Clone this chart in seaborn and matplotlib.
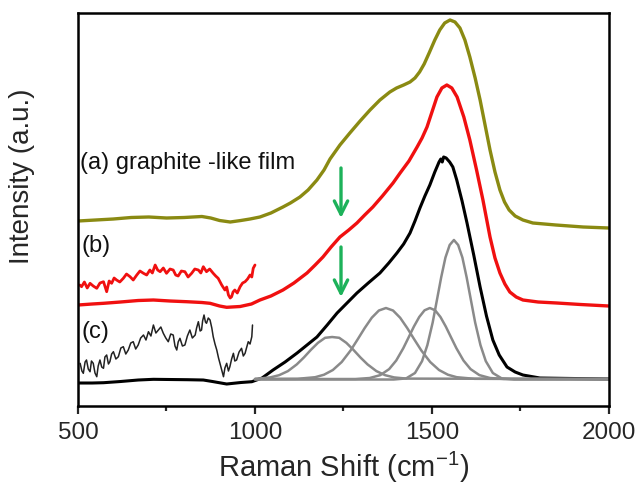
import numpy as np
import pandas as pd
import matplotlib
matplotlib.use("Agg")
import matplotlib.pyplot as plt
import seaborn as sns

# ---------------- data (Raman shift in cm^-1, intensity in a.u.) ----------------
olive_x = [500, 550, 600, 650, 700, 750, 800, 850, 875, 900, 930, 960, 986, 1014, 1045, 1079,
           1100, 1127, 1150, 1175, 1195, 1212, 1240, 1268, 1297, 1325, 1353, 1381, 1400, 1420,
           1438, 1452, 1465, 1478, 1492, 1508, 1522, 1536, 1551, 1565, 1579, 1593, 1607, 1622,
           1636, 1650, 1664, 1678, 1692, 1705, 1718, 1735, 1757, 1785, 1850, 1927, 2000]
olive_y = [185, 186, 187, 188.5, 189, 188, 188.5, 189.5, 188, 185.5, 184, 185.5, 187, 189, 193, 199,
           203, 209, 216, 226, 236, 247, 261, 273, 285, 296, 306, 314, 318, 321,
           324, 328, 334, 342, 353, 366, 376, 383, 386, 384, 378, 366, 349, 328,
           306, 281, 256, 234, 216, 204, 196, 190, 186, 183, 181, 179, 178]

red_x = [500, 540, 572, 620, 670, 713, 760, 807, 850, 873, 900, 920, 958, 990, 1014, 1045,
         1079, 1110, 1147, 1170, 1192, 1215, 1240, 1265, 1288, 1310, 1333, 1360, 1390, 1410,
         1435, 1458, 1472, 1486, 1500, 1514, 1528, 1542, 1556, 1571, 1590, 1607, 1626, 1644,
         1664, 1678, 1692, 1706, 1720, 1738, 1757, 1800, 1853, 1920, 2000]
red_y = [101, 102, 102.7, 104, 105.5, 106, 105, 104.3, 103.5, 102.7, 100, 98.7, 99.5, 102, 106, 110,
         116, 123, 133, 141, 149, 159, 169, 176, 183, 191, 199, 210, 223, 233,
         245, 259, 268, 279, 294, 309, 318, 321, 318, 309, 289, 266, 236, 206,
         169, 148, 133, 122, 114, 109, 106, 104, 103, 101.5, 100]

red_zoom_x = [505, 510, 518, 526, 534, 543, 553, 562, 572, 581, 588, 595, 602, 609, 618,
              628, 637, 647, 656, 666, 675, 685, 694, 703, 710, 718, 725, 732, 741,
              750, 760, 769, 776, 783, 792, 802, 811, 821, 830, 840, 847, 854, 863,
              872, 882, 889, 896, 906, 915, 920, 925, 930, 934, 938, 943, 950, 958,
              965, 972, 979, 986, 991, 995, 1000]
red_zoom_y = [121, 119.3, 124, 118, 122.7, 120, 117.7, 123, 124.3, 114.3, 125, 122.7, 128, 126, 124,
              127.7, 132, 129.3, 126, 131, 135, 132.7, 131, 136, 133, 141, 136, 134.3, 138,
              132.7, 137, 136, 131, 130, 135, 134.3, 129, 132.7, 137, 136, 133, 139.3, 134.3,
              137, 132.7, 130, 127.7, 121, 116, 119, 111, 108, 109.3, 114, 116, 113, 119.3,
              123, 124.3, 127, 131, 129, 137.7, 141]

black_x = [500, 540, 572, 620, 670, 713, 760, 810, 854, 880, 920, 960, 991, 1020, 1051, 1085,
           1119, 1147, 1175, 1204, 1232, 1260, 1288, 1320, 1353, 1378, 1401, 1420, 1438, 1452,
           1466, 1480, 1494, 1508, 1520, 1525, 1529, 1533, 1540, 1550, 1559, 1570, 1585, 1599,
           1618, 1636, 1654, 1672, 1690, 1712, 1735, 1757, 1805, 1900, 2000]
black_y = [23, 23, 23.3, 24.5, 26, 26.7, 26.5, 26.3, 26, 24.5, 22, 23.5, 24.3, 28, 36, 44,
           53, 61, 69, 81, 93, 103, 113, 123, 133, 143, 153, 162, 173, 185,
           198, 210, 221, 234, 244, 247, 244, 249, 248, 244, 239, 226, 205, 183,
           151, 119, 90, 66, 51, 39, 34, 31, 28, 27.5, 27]

black_zoom_x = [506, 511, 515, 520, 524, 529, 534, 538, 543, 548, 553, 557, 562, 567, 572,
                576, 581, 586, 590, 595, 600, 607, 614, 621, 628, 635, 642, 649, 656,
                663, 670, 677, 685, 692, 699, 706, 713, 720, 727, 734, 741, 748, 755,
                762, 769, 774, 779, 783, 788, 795, 802, 809, 816, 823, 831, 835, 840,
                845, 849, 852, 856, 860, 863, 868, 873, 878, 882, 887, 892, 897, 901,
                906, 911, 915, 920, 925, 929, 934, 939, 943, 948, 955, 962, 967, 972,
                976, 981, 986, 991, 993]
black_zoom_y = [42.7, 35, 32.7, 44, 46, 37, 34.3, 45, 42.7, 33, 29.3, 40, 46, 39, 37.7,
                49, 51, 42, 44.3, 52, 54.3, 47, 49.3, 58, 59.3, 52, 56, 63, 64.3,
                57, 61, 68, 71, 66, 74.3, 70, 81, 73, 76, 79, 72.7, 68, 64.3,
                72, 71, 60, 56, 64, 67.7, 60, 61, 70, 76, 68, 71, 78, 84.3,
                75, 76, 85, 91, 84, 82.7, 88, 86, 78, 69.3, 62, 56, 48, 42.7,
                36, 29.3, 38, 42.7, 35, 39.3, 47, 52.7, 45, 46, 54, 57.7, 50, 52.7,
                58, 64.3, 62, 69.3, 81]

fit1_x = [1000, 1008, 1043, 1068, 1093, 1118, 1138, 1158, 1178, 1198, 1218, 1238, 1258, 1278,
          1298, 1318, 1343, 1368, 1393, 1428, 2000]
fit1_y = [27, 27.4, 28.6, 30.8, 34.9, 41.6, 48.5, 56.2, 63.2, 68.2, 69, 68.2, 63.2, 56.2,
          48.5, 41.6, 34.9, 30.8, 28.6, 27.4, 27]

fit2_x = [1000, 1120, 1170, 1195, 1220, 1245, 1270, 1290, 1310, 1330, 1350, 1370, 1390, 1410,
          1430, 1450, 1470, 1495, 1520, 1545, 1570, 1620, 2000]
fit2_y = [27, 27.2, 28.8, 31.3, 36, 44, 55.5, 66.6, 78, 88.3, 95.5, 98, 95.5, 88.3,
          78, 66.6, 55.5, 44, 36, 31.3, 28.8, 27.2, 27]

fit3_x = [1000, 1284, 1324, 1354, 1379, 1399, 1419, 1434, 1449, 1464, 1479, 1494, 1509, 1524,
          1539, 1554, 1569, 1589, 1609, 1634, 1664, 1704, 2000]
fit3_y = [27, 27, 28, 30.9, 36.9, 45.5, 57.8, 68.6, 79.5, 89, 95.7, 98, 95.7, 89,
          79.5, 68.6, 57.8, 45.5, 36.9, 30.9, 28, 27, 27]

fit4_x = [1000, 1392, 1427, 1452, 1472, 1487, 1502, 1514, 1526, 1538, 1550, 1562, 1574, 1586,
          1598, 1610, 1622, 1637, 1652, 1672, 1697, 1732, 2000]
fit4_y = [26.5, 26.5, 27.6, 33, 44.9, 60.9, 83.5, 106, 128.6, 148.4, 161, 166, 161, 148.4,
          128.6, 106, 83.5, 60.9, 44.9, 33, 27.6, 26.5, 26.5]

arrow_x = [1243, 1243]
arrow_top = [238, 159]
arrow_tip = [188, 109]

labels = ["(a) graphite -like film", "(b)", "(c)"]
label_x = [506, 511, 511]
label_y = [243, 160, 74]

xticks = [500, 1000, 1500, 2000]
minor_xticks = [750, 1250, 1750]

# ---------------- style ----------------
sns.set_style("ticks")
plt.rcParams['font.family'] = ['Liberation Sans', 'DejaVu Sans']
plt.rcParams['mathtext.default'] = 'regular'

OLIVE = "#8a8a12"
RED = "#f01010"
GRAY = "#8a8a8a"
GREEN = "#1db25a"

fig = plt.figure(figsize=(6.41, 4.90), dpi=100)
ax = fig.add_axes([0.1217, 0.1714, 0.8283, 0.8021])

sns.lineplot(x=olive_x, y=olive_y, color=OLIVE, lw=2.4, ax=ax, sort=False)
sns.lineplot(x=red_x, y=red_y, color=RED, lw=2.4, ax=ax, sort=False)
sns.lineplot(x=red_zoom_x, y=red_zoom_y, color=RED, lw=2.0, ax=ax, sort=False)
sns.lineplot(x=black_x, y=black_y, color="black", lw=2.2, ax=ax, sort=False)
sns.lineplot(x=black_zoom_x, y=black_zoom_y, color="#222222", lw=1.1, ax=ax, sort=False)
for fx, fy in [(fit1_x, fit1_y), (fit2_x, fit2_y), (fit3_x, fit3_y), (fit4_x, fit4_y)]:
    sns.lineplot(x=fx, y=fy, color=GRAY, lw=1.8, ax=ax, sort=False)

for xa, yt, yb in zip(arrow_x, arrow_top, arrow_tip):
    ax.annotate("", xy=(xa, yb), xytext=(xa, yt),
                arrowprops=dict(arrowstyle="->", color=GREEN, lw=2.4,
                                mutation_scale=24, shrinkA=0, shrinkB=0))

for t, lx, ly in zip(labels, label_x, label_y):
    ax.text(lx, ly, t, fontsize=17, va="center", ha="left", color="#111111")

ax.set_xlim(500, 2000)
ax.set_ylim(0, 393)
ax.set_xticks(xticks)
ax.set_xticks(minor_xticks, minor=True)
ax.set_xticklabels([str(v) for v in xticks])
ax.set_yticks([])
ax.tick_params(axis="x", which="major", direction="out", length=6, width=1.6,
               labelsize=17.5, pad=5.5)
ax.tick_params(axis="x", which="minor", direction="out", length=3.5, width=1.6)
for s in ax.spines.values():
    s.set_visible(True)
    s.set_linewidth(1.8)
    s.set_color("black")

ax.set_xlabel("Raman Shift (cm$^{-1}$)", fontsize=21, labelpad=4)
ax.set_ylabel("Intensity (a.u.)", fontsize=20)
ax.yaxis.set_label_coords(-0.081, 0.585)

fig.savefig("out.png", dpi=100, facecolor="white")
